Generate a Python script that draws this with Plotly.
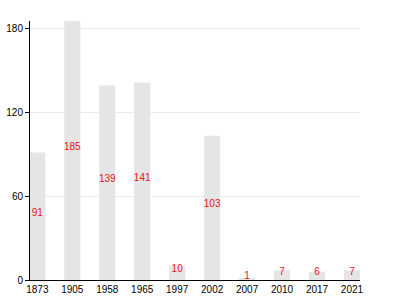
import plotly.graph_objects as go

years = ["1873", "1905", "1958", "1965", "1997", "2002", "2007", "2010", "2017", "2021"]
values = [91, 185, 139, 141, 10, 103, 1, 7, 6, 7]
y_ticks = [0, 60, 120, 180]

label_y = [v / 2 + 2.2 for v in values]

fig = go.Figure()
fig.add_trace(go.Bar(x=years, y=values, marker=dict(color="#e5e5e5", line=dict(width=0)), width=0.46,
                     hoverinfo="skip"))
fig.add_trace(go.Scatter(x=years, y=label_y, mode="text", text=[str(v) for v in values],
                         textposition="middle center",
                         textfont=dict(color="#e8111c", size=10, family="Liberation Sans, Arial"),
                         cliponaxis=False))

fig.update_layout(
    width=400, height=300,
    margin=dict(l=30, r=40, t=21, b=20),
    plot_bgcolor="white", paper_bgcolor="white",
    showlegend=False,
    font=dict(family="Liberation Sans, Arial", size=10, color="black"),
    xaxis=dict(type="category", range=[-0.21, 9.23], showline=True, linecolor="black", linewidth=1,
               ticks="", showgrid=False, tickfont=dict(size=10), automargin=False),
    yaxis=dict(range=[0, 185], tickvals=y_ticks, showline=True, linecolor="black", linewidth=1,
               ticks="outside", ticklen=4, tickcolor="black", showgrid=True, gridcolor="#ebebeb",
               zeroline=False, tickfont=dict(size=10), automargin=False),
)
fig.write_html("out.html")
